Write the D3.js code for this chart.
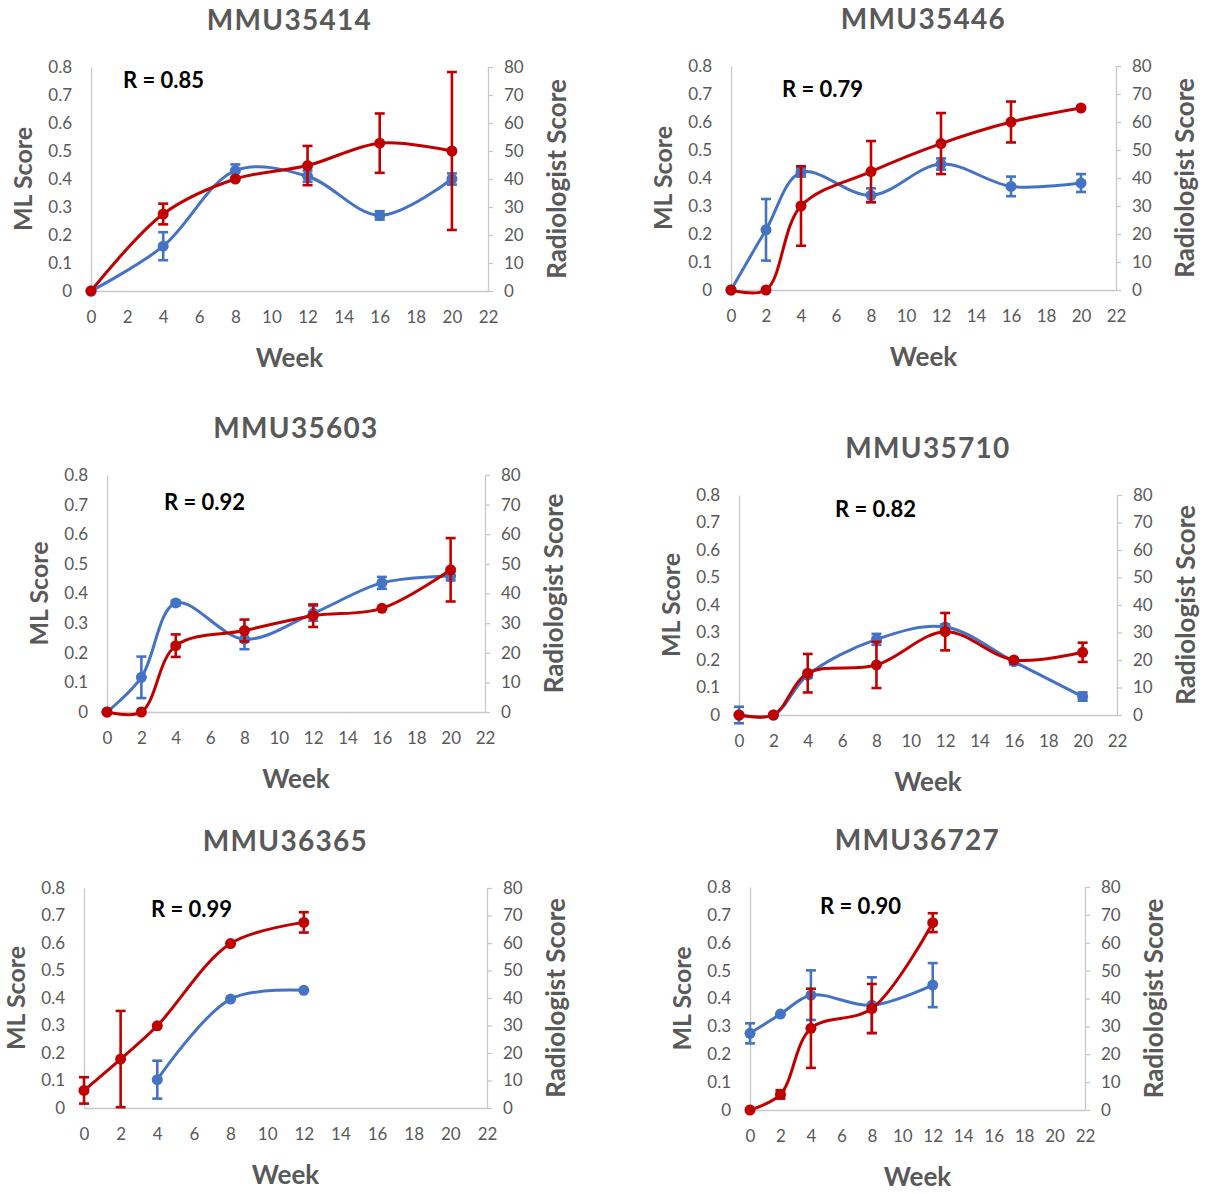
<!DOCTYPE html>
<html>
<head>
<meta charset="utf-8">
<script src="https://cdn.jsdelivr.net/npm/d3@7"></script>
<style>
  html, body { margin: 0; padding: 0; background: #ffffff; }
  svg { display: block; }
  text { font-family: Lato, "Open Sans", sans-serif; }
</style>
</head>
<body>
<svg id="chart" width="1209" height="1193"></svg>
<script>
// ---- data ----
const subjects = ["MMU35414", "MMU35446", "MMU35603", "MMU35710", "MMU36365", "MMU36727"];
const correlations = ["0.85", "0.79", "0.92", "0.82", "0.99", "0.90"];

const weekTicks = [0, 2, 4, 6, 8, 10, 12, 14, 16, 18, 20, 22];
const mlTicks = [0, 0.1, 0.2, 0.3, 0.4, 0.5, 0.6, 0.7, 0.8];
const radTicks = [0, 10, 20, 30, 40, 50, 60, 70, 80];

// ML score (left axis): weeks, means, error half-widths
const mlWeeks = [
  [0, 4, 8, 12, 16, 20],
  [0, 2, 4, 8, 12, 16, 20],
  [0, 2, 4, 8, 12, 16, 20],
  [0, 2, 4, 8, 12, 16, 20],
  [4, 8, 12],
  [0, 2, 4, 8, 12]
];
const mlMeans = [
  [0, 0.16, 0.43, 0.41, 0.27, 0.40],
  [0, 0.215, 0.42, 0.338, 0.45, 0.37, 0.382],
  [0, 0.117, 0.368, 0.246, 0.333, 0.436, 0.459],
  [0, 0, 0.145, 0.275, 0.32, 0.194, 0.067],
  [0.103, 0.396, 0.428],
  [0.275, 0.344, 0.412, 0.376, 0.448]
];
const mlErrors = [
  [0, 0.05, 0.022, 0.02, 0.015, 0.02],
  [0, 0.11, 0.015, 0.025, 0.02, 0.035, 0.032],
  [0, 0.07, 0.008, 0.034, 0.025, 0.02, 0.015],
  [0.03, 0, 0.01, 0.02, 0.01, 0.01, 0.015],
  [0.069, 0, 0],
  [0.036, 0, 0.089, 0.1, 0.079]
];

// Radiologist score (right axis): weeks, means, error half-widths
const radWeeks = [
  [0, 4, 8, 12, 16, 20],
  [0, 2, 4, 8, 12, 16, 20],
  [0, 2, 4, 8, 12, 16, 20],
  [0, 2, 4, 8, 12, 16, 20],
  [0, 2, 4, 8, 12],
  [0, 2, 4, 8, 12]
];
const radMeans = [
  [0, 27.5, 40, 44.8, 52.8, 50],
  [0, 0, 30, 42.3, 52.3, 60, 65],
  [0, 0, 22.4, 27.5, 32.5, 35, 48],
  [0, 0, 15.2, 18.2, 30.3, 20, 22.8],
  [6.4, 17.8, 29.9, 59.8, 67.5],
  [0, 5.6, 29.3, 36.4, 67.2]
];
const radErrors = [
  [0, 3.7, 0, 7, 10.6, 28.2],
  [0, 0, 14.2, 10.9, 10.9, 7.3, 0],
  [0, 0, 3.8, 3.7, 3.8, 0, 10.7],
  [0, 0, 7, 8.4, 6.8, 0, 3.5],
  [4.8, 17.5, 0, 0, 3.7],
  [0, 1.5, 14.2, 8.8, 3.4]
];

// ---- layout: plot frames in page pixels, and offset of the R label ----
const frames = [
  { left: 91,  right: 488,  top: 67,  bottom: 291,  rdx: 32, rdy: 21 },
  { left: 731, right: 1116, top: 66,  bottom: 290,  rdx: 51, rdy: 31 },
  { left: 107, right: 485,  top: 475, bottom: 712,  rdx: 57, rdy: 35 },
  { left: 739, right: 1117, top: 495, bottom: 715,  rdx: 96, rdy: 22 },
  { left: 84,  right: 487,  top: 888, bottom: 1108, rdx: 67, rdy: 29 },
  { left: 750, right: 1085, top: 887, bottom: 1110, rdx: 70, rdy: 27 }
];

const BLUE = "#4472c4";
const RED = "#c00000";
const AXIS = "#c8c8c8";
const LABEL = "#595959";

const svg = d3.select("#chart");

function styleAxis(g) {
  g.select(".domain").attr("stroke", AXIS).attr("stroke-width", 1.3);
  g.selectAll(".tick line").attr("stroke", AXIS).attr("stroke-width", 1.3);
  g.selectAll(".tick text")
    .attr("fill", LABEL)
    .style("font-size", "17px")
    .style("font-family", "Lato, sans-serif");
}

function drawSeries(g, x, y, weeks, means, errors, color) {
  const pts = weeks.map((w, i) => ({ w, v: means[i], e: errors[i] }));
  const line = d3.line()
    .x(d => x(d.w))
    .y(d => y(d.v))
    .curve(d3.curveCatmullRom.alpha(0.5));

  g.append("path")
    .datum(pts)
    .attr("fill", "none")
    .attr("stroke", color)
    .attr("stroke-width", 3)
    .attr("stroke-linejoin", "round")
    .attr("d", line);

  const bars = g.append("g").selectAll("g")
    .data(pts.filter(d => d.e > 0))
    .join("g")
    .attr("stroke", color)
    .attr("stroke-width", 2.6);
  bars.append("line")
    .attr("x1", d => x(d.w)).attr("x2", d => x(d.w))
    .attr("y1", d => y(d.v - d.e)).attr("y2", d => y(d.v + d.e));
  bars.append("line")
    .attr("x1", d => x(d.w) - 5).attr("x2", d => x(d.w) + 5)
    .attr("y1", d => y(d.v + d.e)).attr("y2", d => y(d.v + d.e));
  bars.append("line")
    .attr("x1", d => x(d.w) - 5).attr("x2", d => x(d.w) + 5)
    .attr("y1", d => y(d.v - d.e)).attr("y2", d => y(d.v - d.e));

  g.append("g").selectAll("circle")
    .data(pts)
    .join("circle")
    .attr("cx", d => x(d.w))
    .attr("cy", d => y(d.v))
    .attr("r", 5.5)
    .attr("fill", color);
}

subjects.forEach((name, i) => {
  const f = frames[i];
  const x = d3.scaleLinear().domain([0, 22]).range([f.left, f.right]);
  const yMl = d3.scaleLinear().domain([0, 0.8]).range([f.bottom, f.top]);
  const yRad = d3.scaleLinear().domain([0, 80]).range([f.bottom, f.top]);
  const panel = svg.append("g");

  // axes
  panel.append("g")
    .attr("transform", `translate(${f.left},0)`)
    .call(d3.axisLeft(yMl).tickValues(mlTicks).tickSize(0).tickPadding(19)
      .tickFormat(d => d === 0 ? "0" : d3.format(".1f")(d)))
    .call(styleAxis);
  panel.append("g")
    .attr("transform", `translate(${f.right},0)`)
    .call(d3.axisRight(yRad).tickValues(radTicks).tickSize(5).tickSizeOuter(0).tickPadding(11)
      .tickFormat(d3.format("d")))
    .call(styleAxis);
  panel.append("g")
    .attr("transform", `translate(0,${f.bottom})`)
    .call(d3.axisBottom(x).tickValues(weekTicks).tickSize(0).tickPadding(20)
      .tickFormat(d3.format("d")))
    .call(styleAxis);

  // title and axis titles
  const midX = (f.left + f.right) / 2;
  const midY = (f.top + f.bottom) / 2;
  panel.append("text")
    .attr("x", midX).attr("y", f.top - 37)
    .attr("text-anchor", "middle")
    .attr("fill", LABEL)
    .style("font-size", "28px").style("font-weight", 700)
    .style("letter-spacing", "1.3px")
    .text(name);
  panel.append("text")
    .attr("x", midX).attr("y", f.bottom + 76)
    .attr("text-anchor", "middle")
    .attr("fill", LABEL)
    .style("font-size", "26px").style("font-weight", 700)
    .text("Week");
  panel.append("text")
    .attr("transform", `translate(${f.left - 59},${midY}) rotate(-90)`)
    .attr("text-anchor", "middle")
    .attr("fill", LABEL)
    .style("font-size", "25px").style("font-weight", 700)
    .text("ML Score");
  panel.append("text")
    .attr("transform", `translate(${f.right + 78},${midY}) rotate(-90)`)
    .attr("text-anchor", "middle")
    .attr("fill", LABEL)
    .style("font-size", "26px").style("font-weight", 700)
    .text("Radiologist Score");

  // correlation label
  panel.append("text")
    .attr("x", f.left + f.rdx).attr("y", f.top + f.rdy)
    .attr("fill", "#000000")
    .style("font-size", "22px").style("font-weight", 700)
    .text(`R = ${correlations[i]}`);

  // series: ML first, radiologist drawn above it
  drawSeries(panel, x, yMl, mlWeeks[i], mlMeans[i], mlErrors[i], BLUE);
  drawSeries(panel, x, yRad, radWeeks[i], radMeans[i], radErrors[i], RED);
});
</script>
</body>
</html>
